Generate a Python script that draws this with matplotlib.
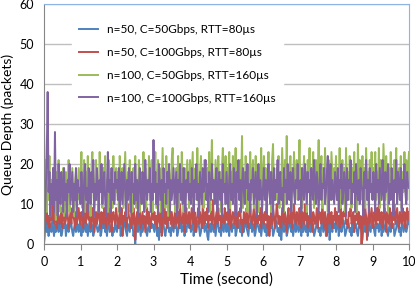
import numpy as np
import matplotlib
matplotlib.use("Agg")
import matplotlib.pyplot as plt

labels = ["n=50, C=50Gbps, RTT=80\u00b5s",
          "n=50, C=100Gbps, RTT=80\u00b5s",
          "n=100, C=50Gbps, RTT=160\u00b5s",
          "n=100, C=100Gbps, RTT=160\u00b5s"]
colors = ["#4F81BD", "#C0504D", "#9BBB59", "#8064A2"]

q_n50_c50 = [
    0, 4, 6, 3, 5, 2, 4, 5, 3, 6, 4, 2, 5, 3, 4, 6, 3, 5, 4, 2, 3, 5, 4, 6, 2, 4, 5, 3, 4, 6, 5, 3, 2, 4, 5, 3, 6, 4, 3, 5,
    4, 2, 5, 3, 6, 4, 3, 5, 2, 4, 6, 3, 5, 4, 2, 3, 5, 6, 4, 3, 4, 5, 2, 3, 6, 4, 5, 3, 4, 2, 5, 6, 3, 4, 5, 2, 4, 3, 6, 4,
    3, 5, 4, 6, 2, 4, 3, 5, 6, 4, 3, 2, 5, 4, 3, 6, 4, 5, 2, 3, 0, 4, 5, 3, 6, 4, 2, 5, 3, 4, 5, 6, 3, 2, 4, 5, 3, 6, 4, 5,
    4, 3, 6, 5, 2, 4, 1, 5, 3, 4, 6, 5, 3, 2, 4, 5, 6, 3, 4, 2, 5, 4, 3, 6, 4, 5, 2, 3, 5, 4, 6, 3, 4, 5, 2, 4, 3, 5, 6, 4,
    5, 3, 4, 6, 2, 5, 4, 3, 5, 6, 4, 2, 3, 5, 4, 6, 3, 4, 5, 2, 1, 4, 5, 3, 6, 4, 3, 5, 2, 4, 6, 5, 3, 4, 2, 5, 4, 3, 6, 5,
    3, 5, 4, 2, 6, 4, 3, 5, 4, 6, 2, 3, 5, 4, 6, 3, 5, 2, 4, 3, 5, 6, 4, 3, 2, 5, 4, 6, 3, 5, 4, 2, 3, 6, 5, 4, 3, 5, 2, 4,
    6, 4, 3, 5, 2, 4, 5, 3, 6, 4, 5, 2, 3, 4, 6, 5, 3, 4, 2, 5, 1, 4, 6, 3, 5, 4, 2, 3, 5, 6, 4, 3, 5, 2, 4, 6, 3, 5, 4, 3,
    5, 4, 2, 6, 3, 5, 4, 3, 6, 2, 4, 5, 3, 6, 4, 5, 2, 3, 4, 6, 5, 3, 4, 2, 5, 6, 3, 4, 5, 2, 4, 3, 6, 1, 4, 5, 3, 6, 4, 5,
    3, 5, 6, 2, 4, 5, 3, 4, 6, 5, 2, 3, 4, 6, 5, 3, 4, 2, 5, 3, 6, 4, 5, 3, 2, 4, 6, 5, 3, 1, 4, 5, 3, 6, 4, 2, 5, 4, 3, 6,
    4, 5, 3, 2, 6, 4, 5, 3, 4, 6, 2, 5, 3, 4, 5, 6, 3, 2, 4, 5, 3, 6, 4, 5, 2, 3, 4, 6, 5, 3, 4, 2, 5, 6, 3, 4, 5, 3, 4, 6,
    5]
q_n50_c100 = [
    0, 8, 6, 9, 5, 7, 4, 8, 6, 10, 7, 5, 9, 6, 4, 8, 7, 5, 6, 9, 4, 7, 8, 5, 6, 10, 7, 4, 6, 8, 5, 9, 7, 6, 4, 8, 5, 7, 9, 6,
    5, 8, 7, 4, 9, 6, 5, 10, 7, 6, 8, 4, 5, 9, 7, 3, 6, 8, 5, 7, 10, 6, 4, 8, 7, 5, 9, 6, 4, 7, 8, 5, 6, 9, 3, 7, 8, 6, 5, 9,
    7, 4, 6, 8, 5, 9, 2, 7, 6, 8, 4, 5, 10, 7, 6, 4, 8, 5, 9, 7, 1, 6, 8, 5, 7, 9, 4, 6, 8, 5, 7, 3, 6, 9, 5, 8, 6, 4, 7, 9,
    6, 8, 5, 7, 4, 9, 6, 5, 8, 2, 7, 6, 10, 5, 8, 4, 7, 6, 9, 5, 8, 6, 4, 7, 9, 5, 6, 8, 4, 10, 7, 5, 6, 8, 3, 7, 9, 5, 6, 8,
    4, 7, 9, 6, 5, 8, 3, 6, 7, 9, 5, 8, 6, 4, 10, 7, 5, 8, 6, 9, 4, 7, 6, 8, 5, 11, 7, 4, 6, 8, 5, 9, 6, 7, 4, 8, 6, 5, 9, 7,
    6, 8, 5, 7, 9, 4, 6, 8, 7, 5, 10, 6, 4, 8, 7, 9, 5, 6, 3, 8, 7, 5, 9, 6, 4, 8, 10, 6, 5, 7, 9, 4, 6, 8, 5, 7, 6, 9, 4, 8,
    7, 5, 8, 6, 9, 4, 7, 2, 6, 8, 5, 9, 7, 4, 6, 10, 8, 5, 7, 6, 4, 9, 7, 5, 8, 6, 3, 7, 9, 5, 6, 8, 4, 7, 10, 6, 5, 8, 7, 5,
    9, 6, 4, 8, 7, 5, 10, 6, 8, 4, 7, 5, 9, 6, 3, 8, 7, 5, 6, 9, 4, 7, 8, 6, 5, 10, 7, 4, 8, 6, 2, 7, 9, 5, 6, 8, 4, 7, 6, 9,
    5, 8, 6, 7, 4, 9, 6, 5, 8, 7, 10, 5, 6, 4, 8, 7, 9, 5, 6, 8, 3, 7, 6, 9, 5, 8, 4, 7, 0, 6, 8, 5, 9, 7, 1, 6, 8, 5, 7, 9,
    6, 4, 8, 7, 5, 9, 6, 10, 5, 7, 8, 4, 6, 9, 7, 3, 8, 6, 5, 9, 7, 4, 8, 6, 10, 5, 7, 9, 6, 4, 8, 7, 5, 9, 6, 8, 4, 7, 9, 6,
    8]
q_n100_c50 = [
    30, 14, 21, 8, 18, 11, 22, 7, 16, 13, 19, 9, 15, 6, 18, 14, 21, 11, 8, 16, 13, 19, 7, 15, 18, 9, 14, 21, 8, 16, 11, 19, 13, 7, 15, 18, 9, 14, 19, 11,
    16, 23, 9, 14, 21, 8, 18, 13, 22, 11, 15, 7, 19, 23, 14, 9, 16, 21, 11, 15, 8, 23, 13, 18, 9, 19, 14, 22, 11, 16, 8, 21, 13, 15, 18, 9, 22, 14, 11, 19,
    13, 18, 8, 22, 15, 11, 19, 9, 16, 23, 14, 7, 18, 13, 21, 11, 15, 8, 19, 14, 22, 9, 16, 13, 21, 8, 18, 15, 11, 23, 14, 19, 9, 16, 13, 22, 11, 15, 21, 8,
    18, 14, 23, 9, 15, 21, 11, 19, 8, 16, 24, 13, 18, 9, 22, 14, 7, 19, 15, 11, 21, 24, 13, 16, 8, 19, 14, 22, 9, 18, 13, 23, 15, 8, 19, 11, 16, 21, 14, 9,
    21, 13, 18, 23, 9, 15, 19, 11, 24, 14, 8, 18, 22, 13, 16, 9, 21, 15, 11, 19, 14, 23, 8, 18, 26, 13, 16, 11, 21, 15, 9, 22, 14, 18, 8, 19, 24, 13, 16, 22,
    11, 19, 15, 23, 9, 18, 14, 22, 13, 16, 24, 8, 19, 15, 11, 21, 14, 27, 9, 18, 13, 22, 16, 8, 19, 14, 23, 11, 16, 21, 9, 15, 22, 13, 18, 8, 19, 14, 24, 11,
    16, 22, 13, 19, 9, 15, 23, 14, 18, 8, 21, 25, 13, 16, 11, 19, 15, 22, 9, 18, 14, 24, 16, 8, 21, 13, 27, 11, 18, 15, 22, 9, 19, 14, 23, 13, 16, 21, 11, 18,
    26, 14, 19, 9, 16, 22, 13, 18, 8, 21, 15, 24, 11, 19, 14, 23, 9, 16, 21, 13, 18, 26, 11, 15, 22, 9, 19, 14, 24, 13, 16, 8, 21, 15, 11, 23, 18, 13, 19, 15,
    22, 11, 18, 14, 24, 9, 16, 21, 13, 19, 8, 24, 15, 18, 11, 22, 14, 9, 19, 16, 23, 13, 18, 8, 25, 15, 21, 11, 16, 22, 13, 19, 9, 24, 15, 18, 11, 21, 14, 23,
    13, 19, 16, 23, 11, 18, 14, 24, 9, 21, 15, 13, 25, 18, 11, 22, 16, 8, 19, 14, 23, 13, 18, 9, 21, 15, 24, 11, 16, 19, 14, 22, 9, 18, 13, 23, 15, 21, 11, 19,
    23]
q_n100_c100 = [
    0, 6, 14, 22, 38, 13, 18, 7, 15, 10, 19, 8, 28, 11, 16, 7, 20, 13, 10, 18, 14, 8, 19, 11, 15, 7, 16, 13, 20, 10, 14, 18, 8, 15, 11, 19, 7, 16, 13, 14,
    10, 18, 13, 7, 16, 20, 11, 14, 8, 19, 15, 10, 18, 13, 21, 7, 15, 11, 19, 14, 8, 16, 13, 20, 10, 15, 18, 11, 7, 14, 23, 13, 16, 8, 19, 11, 15, 10, 18, 14,
    16, 11, 19, 8, 14, 18, 10, 15, 20, 13, 7, 16, 11, 19, 14, 8, 18, 13, 15, 10, 20, 11, 16, 7, 14, 19, 13, 10, 18, 15, 8, 21, 14, 11, 16, 13, 19, 8, 15, 11,
    26, 13, 18, 10, 15, 8, 20, 14, 11, 16, 7, 19, 13, 15, 10, 18, 14, 20, 8, 16, 11, 15, 19, 10, 14, 18, 7, 16, 13, 20, 11, 15, 10, 19, 14, 8, 16, 13, 18, 11,
    15, 10, 19, 14, 8, 16, 13, 20, 11, 15, 7, 18, 14, 10, 19, 13, 16, 21, 11, 15, 8, 18, 14, 11, 20, 13, 16, 10, 15, 19, 8, 14, 18, 11, 16, 7, 20, 13, 15, 10,
    18, 13, 8, 16, 20, 11, 15, 10, 19, 14, 7, 18, 13, 21, 11, 16, 8, 15, 19, 13, 10, 18, 14, 20, 11, 15, 8, 16, 13, 19, 10, 14, 18, 7, 15, 20, 11, 16, 13, 8,
    14, 19, 11, 16, 8, 15, 20, 13, 10, 18, 14, 7, 19, 11, 16, 13, 21, 10, 15, 18, 11, 14, 8, 19, 13, 16, 10, 20, 14, 11, 18, 8, 15, 19, 13, 10, 16, 14, 20, 11,
    13, 16, 8, 19, 14, 11, 20, 15, 10, 18, 13, 16, 7, 19, 14, 11, 21, 15, 10, 18, 13, 8, 16, 20, 11, 15, 14, 19, 10, 13, 18, 22, 8, 15, 20, 11, 16, 13, 10, 18,
    15, 11, 19, 8, 16, 14, 20, 10, 13, 18, 15, 7, 19, 11, 16, 14, 21, 10, 15, 13, 18, 8, 20, 14, 11, 16, 10, 19, 15, 13, 7, 18, 14, 21, 11, 16, 8, 19, 13, 15,
    11, 18, 14, 8, 20, 13, 16, 10, 19, 15, 11, 21, 14, 8, 18, 13, 16, 20, 10, 15, 11, 19, 14, 7, 16, 13, 21, 10, 18, 15, 11, 19, 8, 16, 14, 20, 13, 10, 18, 15,
    14]
series = [q_n50_c50, q_n50_c100, q_n100_c50, q_n100_c100]

plt.rcParams['font.family'] = ['Lato', 'DejaVu Sans']

fig = plt.figure(figsize=(4.15, 2.87), dpi=100)
ax = fig.add_axes([44/415, 43/287, 365/415, 240/287])

for y, c, lab in zip(series, colors, labels):
    t = np.linspace(0, 10, len(y))
    ax.plot(t, y, color=c, lw=1.4, label=lab)

ax.set_xlim(0, 10)
ax.set_ylim(0, 60)
ax.set_xticks(range(0, 11))
ax.set_yticks(range(0, 61, 10))
ax.yaxis.grid(True, color="#BFBFBF", lw=1)
ax.set_axisbelow(True)
ax.tick_params(axis="x", length=4, color="#868686", labelsize=9, pad=5)
ax.tick_params(axis="y", length=0, labelsize=9, pad=7)
for s in ["left", "bottom"]:
    ax.spines[s].set_color("#868686")
for s in ["top", "right"]:
    ax.spines[s].set_color("#8EB4E3")

ax.set_xlabel("Time (second)", fontsize=11, labelpad=3)
ax.set_ylabel("Queue Depth (packets)", fontsize=10, labelpad=4)

leg = ax.legend(loc="upper left", bbox_to_anchor=(0.06, 0.97), frameon=True,
                fontsize=8.5, handlelength=1.6, labelspacing=1.0,
                borderpad=0.6, handletextpad=0.8)
leg.get_frame().set_edgecolor("white")
leg.get_frame().set_facecolor("white")
leg.get_frame().set_alpha(1)
leg.get_frame().set_boxstyle("square", pad=0)

fig.savefig("out.png", dpi=100)
